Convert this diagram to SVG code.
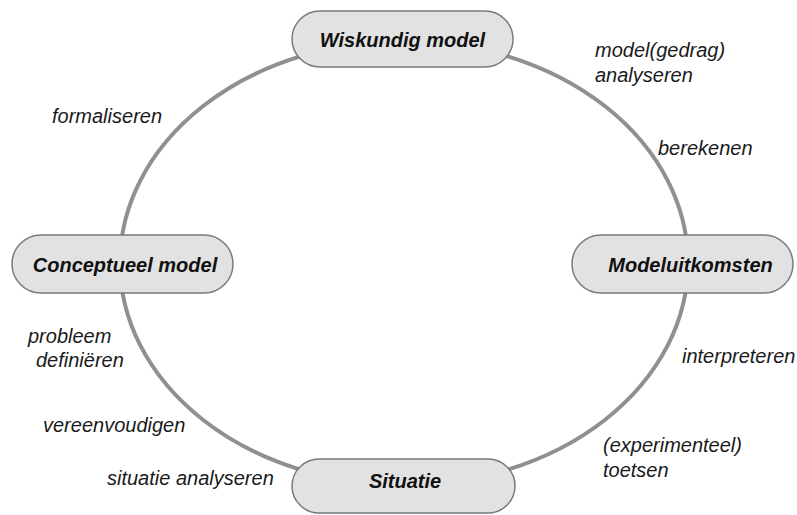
<svg xmlns="http://www.w3.org/2000/svg" width="797" height="515" viewBox="0 0 797 515">
<style>
.node rect{fill:#e2e2e2;stroke:#7a7a7a;stroke-width:1.5}
.node text{font-family:"Liberation Sans",Arial,sans-serif;font-size:20px;font-weight:bold;font-style:italic;fill:#111;text-anchor:middle}
.lbl{font-family:"Liberation Sans",Arial,sans-serif;font-size:20px;font-style:italic;fill:#1a1a1a}
.conn{fill:none;stroke:#909090;stroke-width:4}
</style>
<rect width="797" height="515" fill="#fff"/>
<g id="connectors">
<ellipse class="conn" cx="404" cy="263" rx="284" ry="222"/>
</g>
<g id="node-wiskundig" class="node">
<rect x="292" y="11" width="221" height="56" rx="28"/>
<text x="402.5" y="47">Wiskundig model</text>
</g>
<g id="node-conceptueel" class="node">
<rect x="12" y="235" width="221" height="58" rx="29"/>
<text x="125" y="272">Conceptueel model</text>
</g>
<g id="node-modeluitkomsten" class="node">
<rect x="572" y="235" width="221" height="58" rx="29"/>
<text x="690.5" y="272">Modeluitkomsten</text>
</g>
<g id="node-situatie" class="node">
<rect x="292" y="459" width="223" height="54" rx="27"/>
<text x="405" y="488">Situatie</text>
</g>
<g id="labels">
<text class="lbl" x="52" y="123">formaliseren</text>
<text class="lbl" x="595" y="57">model(gedrag)</text>
<text class="lbl" x="595" y="82">analyseren</text>
<text class="lbl" x="658" y="155">berekenen</text>
<text class="lbl" x="28" y="343">probleem</text>
<text class="lbl" x="36" y="367">definiëren</text>
<text class="lbl" x="43" y="432">vereenvoudigen</text>
<text class="lbl" x="107" y="485">situatie analyseren</text>
<text class="lbl" x="682" y="363">interpreteren</text>
<text class="lbl" x="603" y="452">(experimenteel)</text>
<text class="lbl" x="603" y="477">toetsen</text>
</g>
</svg>
